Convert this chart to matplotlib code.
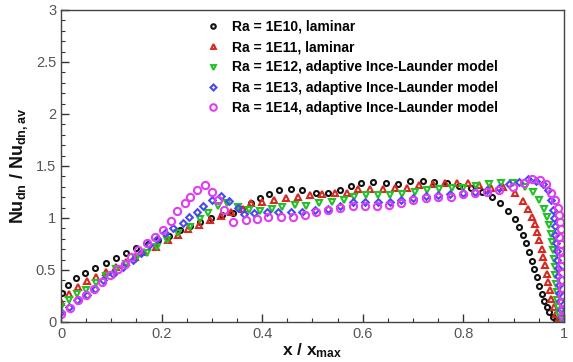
import matplotlib
matplotlib.use("Agg")
import matplotlib.pyplot as plt
from matplotlib.ticker import MultipleLocator

plt.rcParams.update({
    "font.family": "Liberation Sans",
    "mathtext.fontset": "custom",
    "mathtext.bf": "Liberation Sans:bold",
    "mathtext.rm": "Liberation Sans",
})

# ---- data ----
x_1e10 = [0.001, 0.013, 0.03, 0.048, 0.068, 0.089, 0.109, 0.13, 0.15, 0.172, 0.193, 0.215,
          0.237, 0.256, 0.276, 0.298, 0.32, 0.343, 0.36, 0.378, 0.395, 0.414, 0.434, 0.457,
          0.48, 0.507, 0.53, 0.555, 0.576, 0.597, 0.621, 0.646, 0.671, 0.694, 0.719, 0.742,
          0.767, 0.792, 0.815, 0.837, 0.857, 0.874, 0.889, 0.903, 0.911, 0.918, 0.925, 0.931,
          0.936, 0.941, 0.946, 0.951, 0.956, 0.961, 0.966, 0.971, 0.978, 0.985]
y_1e10 = [0.28, 0.36, 0.42, 0.47, 0.52, 0.565, 0.62, 0.66, 0.71, 0.75, 0.79, 0.83,
          0.88, 0.92, 0.96, 1.0, 1.025, 1.045, 1.085, 1.145, 1.195, 1.235, 1.27, 1.275,
          1.268, 1.245, 1.245, 1.268, 1.306, 1.34, 1.347, 1.338, 1.33, 1.355, 1.36, 1.345,
          1.338, 1.31, 1.285, 1.25, 1.203, 1.143, 1.07, 0.995, 0.917, 0.84, 0.757, 0.674,
          0.586, 0.506, 0.433, 0.35, 0.273, 0.205, 0.144, 0.098, 0.05, 0.02]

x_1e11 = [0.0, 0.015, 0.033, 0.051, 0.069, 0.089, 0.109, 0.129, 0.147, 0.166, 0.188, 0.212,
          0.233, 0.253, 0.274, 0.296, 0.318, 0.339, 0.361, 0.377, 0.399, 0.423, 0.447, 0.472,
          0.496, 0.52, 0.545, 0.568, 0.59, 0.614, 0.64, 0.664, 0.688, 0.712, 0.739, 0.763,
          0.788, 0.81, 0.832, 0.856, 0.879, 0.903, 0.919, 0.929, 0.936, 0.942, 0.946, 0.951,
          0.956, 0.959, 0.962, 0.966, 0.969, 0.972, 0.975, 0.98, 0.985, 0.99]
y_1e11 = [0.19, 0.27, 0.34, 0.395, 0.435, 0.48, 0.53, 0.58, 0.625, 0.67, 0.72, 0.785,
          0.84, 0.89, 0.935, 0.98, 1.02, 1.06, 1.09, 1.14, 1.155, 1.17, 1.19, 1.2,
          1.22, 1.226, 1.236, 1.242, 1.274, 1.274, 1.274, 1.29, 1.284, 1.316, 1.325, 1.338,
          1.332, 1.332, 1.32, 1.29, 1.3, 1.236, 1.165, 1.09, 1.01, 0.94, 0.866, 0.786,
          0.706, 0.626, 0.546, 0.466, 0.385, 0.305, 0.225, 0.144, 0.08, 0.035]

x_1e12 = [0.0, 0.015, 0.031, 0.05, 0.069, 0.089, 0.109, 0.129, 0.15, 0.17, 0.19, 0.21,
          0.232, 0.256, 0.276, 0.293, 0.313, 0.331, 0.352, 0.374, 0.396, 0.419, 0.44, 0.465,
          0.488, 0.514, 0.538, 0.563, 0.582, 0.606, 0.631, 0.655, 0.679, 0.704, 0.727, 0.752,
          0.777, 0.8, 0.826, 0.851, 0.876, 0.899, 0.922, 0.939, 0.951, 0.96, 0.966, 0.971,
          0.975, 0.977, 0.979, 0.98, 0.982, 0.983, 0.984, 0.986, 0.987, 0.989, 0.991, 0.994]
y_1e12 = [0.145, 0.215, 0.27, 0.31, 0.375, 0.44, 0.505, 0.56, 0.61, 0.66, 0.72, 0.785,
          0.855, 0.91, 0.995, 1.05, 1.115, 1.14, 1.11, 1.08, 1.07, 1.09, 1.105, 1.125,
          1.12, 1.14, 1.155, 1.17, 1.2, 1.22, 1.22, 1.22, 1.228, 1.25, 1.268, 1.274,
          1.284, 1.284, 1.306, 1.325, 1.338, 1.335, 1.3, 1.25, 1.17, 1.09, 1.01, 0.93,
          0.85, 0.77, 0.69, 0.61, 0.53, 0.45, 0.37, 0.29, 0.21, 0.14, 0.08, 0.03]

x_1e13 = [0.0, 0.015, 0.031, 0.051, 0.068, 0.084, 0.104, 0.124, 0.144, 0.16, 0.175, 0.19,
          0.207, 0.223, 0.242, 0.255, 0.27, 0.283, 0.3, 0.318, 0.335, 0.352, 0.364, 0.384,
          0.409, 0.432, 0.457, 0.48, 0.505, 0.531, 0.555, 0.581, 0.604, 0.63, 0.654, 0.677,
          0.7, 0.726, 0.75, 0.773, 0.799, 0.823, 0.848, 0.871, 0.891, 0.91, 0.928, 0.945,
          0.958, 0.968, 0.975, 0.979, 0.981, 0.982, 0.983, 0.985, 0.986, 0.987, 0.988, 0.989,
          0.99, 0.991, 0.992, 0.994, 0.996]
y_1e13 = [0.096, 0.145, 0.21, 0.26, 0.32, 0.4, 0.466, 0.53, 0.6, 0.665, 0.74, 0.8,
          0.86, 0.9, 0.95, 1.005, 1.06, 1.12, 1.17, 1.21, 1.165, 1.1, 1.04, 1.045,
          1.06, 1.06, 1.06, 1.06, 1.075, 1.09, 1.12, 1.155, 1.155, 1.155, 1.155, 1.17,
          1.19, 1.21, 1.22, 1.23, 1.236, 1.25, 1.268, 1.284, 1.325, 1.345, 1.37, 1.36,
          1.33, 1.27, 1.17, 1.08, 1.0, 0.92, 0.84, 0.76, 0.68, 0.6, 0.52, 0.44,
          0.36, 0.28, 0.2, 0.12, 0.05]

x_1e14 = [0.0, 0.017, 0.034, 0.05, 0.066, 0.081, 0.097, 0.114, 0.127, 0.14, 0.154, 0.17,
          0.187, 0.203, 0.218, 0.231, 0.246, 0.256, 0.271, 0.286, 0.3, 0.313, 0.324, 0.343,
          0.368, 0.389, 0.412, 0.437, 0.461, 0.485, 0.507, 0.531, 0.555, 0.58, 0.604, 0.629,
          0.653, 0.677, 0.7, 0.726, 0.75, 0.775, 0.799, 0.823, 0.848, 0.871, 0.898, 0.92,
          0.937, 0.952, 0.965, 0.975, 0.983, 0.988, 0.99, 0.992, 0.994, 0.991, 0.995, 0.993,
          0.996, 0.994, 0.996, 0.995, 0.997, 0.996, 0.997, 0.998, 0.999]
y_1e14 = [0.08, 0.13, 0.21, 0.26, 0.32, 0.385, 0.45, 0.505, 0.56, 0.625, 0.69, 0.755,
          0.82, 0.88, 0.97, 1.07, 1.145, 1.2, 1.27, 1.318, 1.25, 1.17, 1.08, 0.965,
          0.98, 0.995, 1.005, 1.005, 1.008, 1.027, 1.06, 1.075, 1.1, 1.114, 1.114, 1.114,
          1.123, 1.145, 1.175, 1.19, 1.197, 1.2, 1.23, 1.24, 1.25, 1.268, 1.3, 1.338,
          1.37, 1.364, 1.33, 1.24, 1.17, 1.1, 1.03, 0.96, 0.89, 0.82, 0.75, 0.68,
          0.61, 0.54, 0.47, 0.4, 0.33, 0.26, 0.19, 0.12, 0.06]

labels = [
    "Ra = 1E10, laminar",
    "Ra = 1E11, laminar",
    "Ra = 1E12, adaptive Ince-Launder model",
    "Ra = 1E13, adaptive Ince-Launder model",
    "Ra = 1E14, adaptive Ince-Launder model",
]

# ---- figure ----
fig = plt.figure(figsize=(5.73, 3.62), dpi=100, facecolor="white")
ax = fig.add_axes([0.1065, 0.1105, 0.8775, 0.862])

series = [
    (x_1e10, y_1e10, "o", "#111111", 3.6),
    (x_1e11, y_1e11, "^", "#d42a22", 3.8),
    (x_1e12, y_1e12, "v", "#25c025", 3.8),
    (x_1e13, y_1e13, "D", "#4a4af0", 3.4),
    (x_1e14, y_1e14, "o", "#e03ef0", 5.2),
]

for (xs, ys, m, c, ms), lab in zip(series, labels):
    ax.plot(xs, ys, linestyle="none", marker=m, ms=ms, mfc="none", mec=c,
            mew=1.5, label=lab)

ax.set_xlim(0, 1)
ax.set_ylim(0, 3)
ax.xaxis.set_major_locator(MultipleLocator(0.2))
ax.xaxis.set_minor_locator(MultipleLocator(0.05))
ax.yaxis.set_major_locator(MultipleLocator(0.5))
ax.yaxis.set_minor_locator(MultipleLocator(0.1))
ax.xaxis.set_major_formatter(plt.FuncFormatter(lambda v, p: "%g" % v))
ax.yaxis.set_major_formatter(plt.FuncFormatter(lambda v, p: "%g" % v))

ax.tick_params(which="both", direction="in", top=False, right=False,
               colors="#333333", labelcolor="#555555", labelsize=10.5)
ax.tick_params(which="major", length=6, width=1.0)
ax.tick_params(which="minor", length=3, width=0.8)
for sp in ax.spines.values():
    sp.set_color("#444444")
    sp.set_linewidth(1.0)

ax.set_xlabel(r"$\mathbf{x}$ / $\mathbf{x_{max}}$", fontsize=12.5, fontweight="bold",
              labelpad=0, color="#111111")
ax.set_ylabel(r"$\mathbf{Nu_{dn}}$ / $\mathbf{Nu_{dn,av}}$", fontsize=13,
              fontweight="bold", labelpad=4, color="#111111")

ax.legend(loc="upper left", bbox_to_anchor=(0.27, 1.0), frameon=False,
          prop={"weight": "bold", "size": 10}, handlelength=1.0,
          handletextpad=0.8, labelspacing=0.46, borderpad=0.2, markerscale=0.9)

fig.savefig("out.png", dpi=100, facecolor="white")
